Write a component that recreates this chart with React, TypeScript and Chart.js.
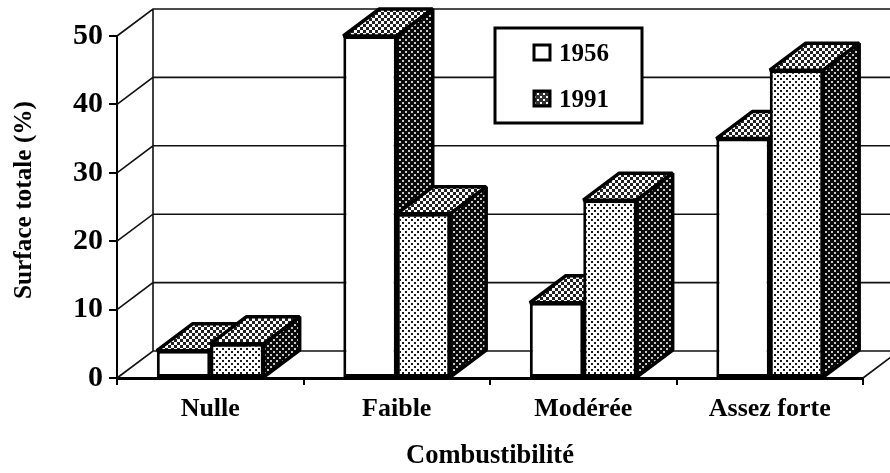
import React, { useEffect, useRef } from "react";
import { Chart, registerables } from "chart.js";

Chart.register(...registerables);

const categories = ["Nulle", "Faible", "Modérée", "Assez forte"];
const values1956 = [4, 50, 11, 35];
const values1991 = [5, 24, 26, 45];
const yTicks = [0, 10, 20, 30, 40, 50];
const seriesNames = ["1956", "1991"];
const FONT = '"Liberation Serif", serif';
const DX = 36;
const DY = -27;

function dots(bg: string, fg: string, s: number) {
  const size = 6;
  const c = document.createElement("canvas");
  c.width = size;
  c.height = size;
  const g = c.getContext("2d")!;
  g.fillStyle = bg;
  g.fillRect(0, 0, size, size);
  g.fillStyle = fg;
  g.fillRect(0, 0, s, s);
  g.fillRect(3, 3, s, s);
  return g.createPattern(c, "repeat")!;
}

export default function App() {
  const ref = useRef<HTMLCanvasElement>(null);
  useEffect(() => {
    document.body.style.margin = "0";
    const frontLight = dots("#ffffff", "#1a1a1a", 2);
    const topFill = dots("#222222", "#ffffff", 3);
    const sideFill = dots("#0a0a0a", "#c8c8c8", 2);
    const swatchFill = dots("#333333", "#ffffff", 2);

    function drawDepth(chart: any, index: number) {
      const { ctx } = chart;
      const meta = chart.getDatasetMeta(index);
      ctx.save();
      ctx.strokeStyle = "#000";
      ctx.lineWidth = 3.5;
      ctx.lineJoin = "bevel";
      meta.data.forEach((bar: any) => {
        const p = bar.getProps(["x", "y", "base", "width"], true);
        const l = p.x - p.width / 2;
        const r = p.x + p.width / 2;
        ctx.beginPath();
        ctx.moveTo(l, p.y);
        ctx.lineTo(l + DX, p.y + DY);
        ctx.lineTo(r + DX, p.y + DY);
        ctx.lineTo(r, p.y);
        ctx.closePath();
        ctx.fillStyle = topFill;
        ctx.fill();
        ctx.stroke();
        ctx.beginPath();
        ctx.moveTo(r, p.y);
        ctx.lineTo(r + DX, p.y + DY);
        ctx.lineTo(r + DX, p.base + DY);
        ctx.lineTo(r, p.base);
        ctx.closePath();
        ctx.fillStyle = sideFill;
        ctx.fill();
        ctx.stroke();
      });
      ctx.restore();
    }

    const depthPlugin = {
      id: "depth",
      beforeDatasetsDraw(chart: any) {
        const { ctx, chartArea: a, scales } = chart;
        const y = scales.y;
        ctx.save();
        ctx.strokeStyle = "#111";
        ctx.lineWidth = 1.6;
        ctx.beginPath();
        yTicks.forEach((t) => {
          const py = y.getPixelForValue(t);
          ctx.moveTo(a.left, py);
          ctx.lineTo(a.left + DX, py + DY);
          ctx.lineTo(chart.width + 20, py + DY);
        });
        ctx.moveTo(a.left + DX, y.getPixelForValue(50) + DY);
        ctx.lineTo(a.left + DX, y.getPixelForValue(0) + DY);
        const py0 = y.getPixelForValue(0);
        ctx.moveTo(a.right, py0);
        ctx.lineTo(a.right + DX, py0 + DY);
        ctx.stroke();
        ctx.restore();
      },
      beforeDatasetDraw() {
        return false;
      },
      afterDatasetsDraw(chart: any) {
        chart.data.datasets.forEach((_: any, i: number) => {
          drawDepth(chart, i);
          chart.getDatasetMeta(i).controller.draw();
        });
      },
      afterDraw(chart: any) {
        const { ctx } = chart;
        ctx.save();
        ctx.fillStyle = "#fff";
        ctx.strokeStyle = "#000";
        ctx.lineWidth = 3;
        ctx.fillRect(495, 28, 147, 95);
        ctx.strokeRect(495, 28, 147, 95);
        chart.data.datasets.forEach((d: any, i: number) => {
          const cy = 52 + i * 46;
          ctx.lineWidth = 3;
          ctx.fillStyle = i === 0 ? "#ffffff" : swatchFill;
          ctx.fillRect(534, cy - 7, 16, 15);
          ctx.strokeRect(534, cy - 7, 16, 15);
          ctx.fillStyle = "#000";
          ctx.font = `bold 25px ${FONT}`;
          ctx.textAlign = "left";
          ctx.textBaseline = "alphabetic";
          ctx.fillText(d.label, 559, cy + 9);
        });
        ctx.restore();
      },
    };

    const chart = new Chart(ref.current!, {
      type: "bar",
      data: {
        labels: categories,
        datasets: [
          {
            label: seriesNames[0],
            data: values1956,
            backgroundColor: "#ffffff",
            borderColor: "#000",
            borderWidth: 3,
            borderSkipped: false,
            barPercentage: 1,
            categoryPercentage: 0.573,
          },
          {
            label: seriesNames[1],
            data: values1991,
            backgroundColor: frontLight as any,
            borderColor: "#000",
            borderWidth: 3,
            borderSkipped: false,
            barPercentage: 1,
            categoryPercentage: 0.573,
          },
        ],
      },
      plugins: [depthPlugin],
      options: {
        responsive: false,
        animation: false,
        layout: { padding: { top: 36, right: 27, left: 0, bottom: 0 } },
        plugins: { legend: { display: false }, tooltip: { enabled: false } },
        scales: {
          x: {
            grid: { drawOnChartArea: false, drawTicks: true, tickLength: 7, color: "#000", lineWidth: 2 },
            border: { display: true, color: "#000", width: 3 },
            ticks: {
              color: "#000",
              font: { family: FONT, weight: "bold", size: 26 },
              padding: 9,
              maxRotation: 0,
              autoSkip: false,
            },
            title: {
              display: true,
              text: "Combustibilité",
              color: "#000",
              font: { family: FONT, weight: "bold", size: 26.5 },
              padding: { top: 0, bottom: 1 },
            },
            afterFit(s: any) {
              s.height = 95;
            },
          },
          y: {
            min: 0,
            max: 50,
            afterBuildTicks(s: any) {
              s.ticks = yTicks.map((value) => ({ value }));
            },
            grid: { drawOnChartArea: false, drawTicks: true, tickLength: 8, color: "#000", lineWidth: 2 },
            border: { display: true, color: "#000", width: 2 },
            ticks: {
              color: "#000",
              font: { family: FONT, weight: "bold", size: 30 },
              padding: 6,
            },
            title: {
              display: true,
              text: "Surface totale (%)",
              color: "#000",
              font: { family: FONT, weight: "bold", size: 25.3 },
              padding: { top: 9, bottom: 0 },
            },
            afterFit(s: any) {
              s.width = 117;
              if (!s.__shifted) {
                s.__shifted = true;
                const orig = s.drawTitle;
                s.drawTitle = function (...args: any[]) {
                  s.ctx.save();
                  s.ctx.translate(0, -7);
                  orig.apply(s, args);
                  s.ctx.restore();
                };
              }
            },
          },
        },
      } as any,
    });
    return () => chart.destroy();
  }, []);
  return <canvas ref={ref} width={890} height={473} style={{ display: "block" }} />;
}
